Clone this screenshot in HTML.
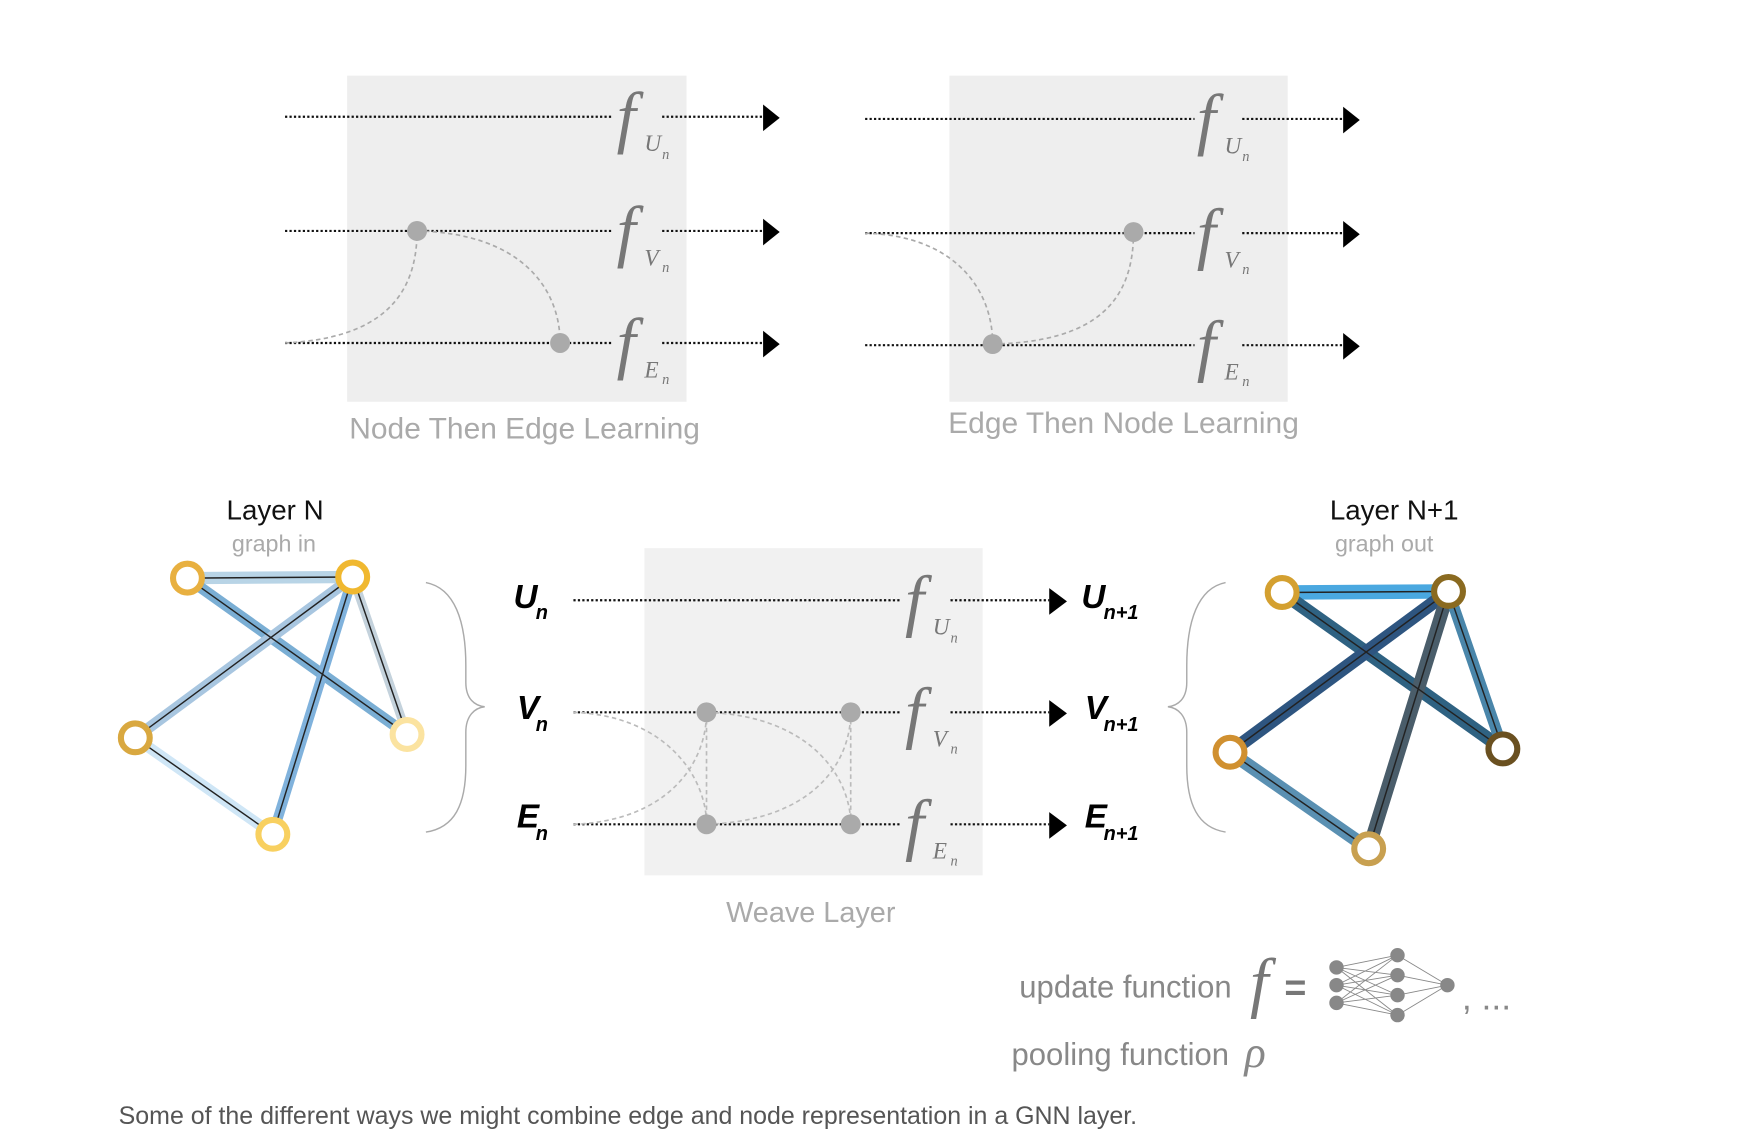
<!DOCTYPE html>
<html><head><meta charset="utf-8"><style>
html,body{margin:0;padding:0;background:#fff;}
svg{display:block;}
.lbl{font-family:"Liberation Sans",sans-serif;fill:#aaa;}
.f{font-family:"Liberation Serif",serif;font-style:italic;fill:#777;}
.v{font-family:"Liberation Sans",sans-serif;font-style:italic;font-weight:bold;fill:#000;}
</style></head><body>
<svg width="1738" height="1144" viewBox="0 0 1567 1031" xmlns="http://www.w3.org/2000/svg">
<!-- top left -->
<rect x="313" y="68" width="306" height="294" fill="#eeeeee"/>
<g stroke="#111" stroke-width="2" stroke-dasharray="2,2" fill="none">
<line x1="257" y1="105" x2="553" y2="105"/><line x1="597" y1="105" x2="688" y2="105"/>
<line x1="257" y1="208" x2="553" y2="208"/><line x1="597" y1="208" x2="688" y2="208"/>
<line x1="257" y1="309" x2="553" y2="309"/><line x1="597" y1="309" x2="688" y2="309"/>
</g>
<g fill="#000"><path d="M688,94 L703,106 L688,118Z"/><path d="M688,197 L703,209 L688,221Z"/><path d="M688,298 L703,310 L688,322Z"/></g>
<g stroke="#aaa" stroke-width="1.5" stroke-dasharray="4,3" fill="none">
<path d="M257,309 C340,305 376,270 376,208"/>
<path d="M376,208 C470,210 505,260 505,309"/>
</g>
<circle cx="376" cy="208" r="9" fill="#aaa"/><circle cx="505" cy="309" r="9" fill="#aaa"/>
<g class="f"><text x="556" y="126" font-size="62" transform="" >f</text><text x="581" y="136" font-size="21">U</text><text x="597" y="143" font-size="13">n</text>
<text x="556" y="229" font-size="62">f</text><text x="581" y="239" font-size="21">V</text><text x="597" y="245" font-size="13">n</text>
<text x="556" y="330" font-size="62">f</text><text x="581" y="340" font-size="21">E</text><text x="597" y="346" font-size="13">n</text></g>
<text class="lbl" x="473" y="395" font-size="27" text-anchor="middle">Node Then Edge Learning</text>

<!-- top right -->
<rect x="856" y="68" width="305" height="294" fill="#eeeeee"/>
<g stroke="#111" stroke-width="2" stroke-dasharray="2,2" fill="none">
<line x1="780" y1="107" x2="1077" y2="107"/><line x1="1120" y1="107" x2="1211" y2="107"/>
<line x1="780" y1="210" x2="1077" y2="210"/><line x1="1120" y1="210" x2="1211" y2="210"/>
<line x1="780" y1="311" x2="1077" y2="311"/><line x1="1120" y1="311" x2="1211" y2="311"/>
</g>
<g fill="#000"><path d="M1211,96 L1226,108 L1211,120Z"/><path d="M1211,199 L1226,211 L1211,223Z"/><path d="M1211,300 L1226,312 L1211,324Z"/></g>
<g stroke="#aaa" stroke-width="1.5" stroke-dasharray="4,3" fill="none">
<path d="M780,210 C860,212 895,260 895,310"/>
<path d="M895,310 C990,308 1022,270 1022,209"/>
</g>
<circle cx="1022" cy="209" r="9" fill="#aaa"/><circle cx="895" cy="310" r="9" fill="#aaa"/>
<g class="f"><text x="1079" y="128" font-size="62">f</text><text x="1104" y="138" font-size="21">U</text><text x="1120" y="145" font-size="13">n</text>
<text x="1079" y="231" font-size="62">f</text><text x="1104" y="241" font-size="21">V</text><text x="1120" y="247" font-size="13">n</text>
<text x="1079" y="332" font-size="62">f</text><text x="1104" y="342" font-size="21">E</text><text x="1120" y="348" font-size="13">n</text></g>
<text class="lbl" x="1013" y="390" font-size="27" text-anchor="middle">Edge Then Node Learning</text>

<!-- weave -->
<rect x="581" y="494" width="305" height="295" fill="#f1f1f1"/>
<g stroke="#111" stroke-width="2" stroke-dasharray="2,2" fill="none">
<line x1="517" y1="541" x2="813" y2="541"/><line x1="857" y1="541" x2="946" y2="541"/>
<line x1="517" y1="642" x2="813" y2="642"/><line x1="857" y1="642" x2="946" y2="642"/>
<line x1="517" y1="743" x2="813" y2="743"/><line x1="857" y1="743" x2="946" y2="743"/>
</g>
<g fill="#000"><path d="M946,530 L962,542 L946,554Z"/><path d="M946,631 L962,643 L946,655Z"/><path d="M946,732 L962,744 L946,756Z"/></g>
<g stroke="#bbb" stroke-width="1.5" stroke-dasharray="4,3" fill="none">
<path d="M517,642 C600,645 637,700 637,743"/>
<path d="M517,743 C600,740 637,690 637,642"/>
<path d="M637,642 L637,743"/>
<path d="M637,642 C730,645 767,700 767,743"/>
<path d="M637,743 C730,740 767,690 767,642"/>
<path d="M767,642 L767,743"/>
</g>
<g fill="#aaa"><circle cx="637" cy="642" r="9"/><circle cx="767" cy="642" r="9"/><circle cx="637" cy="743" r="9"/><circle cx="767" cy="743" r="9"/></g>
<g class="f"><text x="816" y="562" font-size="62">f</text><text x="841" y="572" font-size="21">U</text><text x="857" y="579" font-size="13">n</text>
<text x="816" y="663" font-size="62">f</text><text x="841" y="673" font-size="21">V</text><text x="857" y="679" font-size="13">n</text>
<text x="816" y="764" font-size="62">f</text><text x="841" y="774" font-size="21">E</text><text x="857" y="780" font-size="13">n</text></g>
<g class="v"><text x="463" y="548" font-size="30">U</text><text x="483" y="558" font-size="18">n</text>
<text x="466" y="648" font-size="30">V</text><text x="483" y="659" font-size="18">n</text>
<text x="466" y="746" font-size="30">E</text><text x="483" y="757" font-size="18">n</text>
<text x="975" y="548" font-size="30">U</text><text x="995" y="558" font-size="18">n+1</text>
<text x="978" y="648" font-size="30">V</text><text x="995" y="659" font-size="18">n+1</text>
<text x="978" y="746" font-size="30">E</text><text x="995" y="757" font-size="18">n+1</text></g>
<text class="lbl" x="731" y="831" font-size="26" text-anchor="middle">Weave Layer</text>

<!-- braces -->
<g stroke="#aaa" stroke-width="1.3" fill="none">
<path d="M384,525 C410,530 420,560 420,600 L420,615 C420,630 428,636 437,637 C428,638 420,645 420,660 L420,690 C420,725 410,746 384,750"/>
<path d="M1105,525 C1080,530 1070,560 1070,600 L1070,615 C1070,630 1062,636 1053,637 C1062,638 1070,645 1070,660 L1070,690 C1070,725 1080,746 1105,750"/>
</g>

<!-- left graph -->
<text x="248" y="468" font-family="Liberation Sans,sans-serif" font-size="25" fill="#111" text-anchor="middle">Layer N</text>
<text class="lbl" x="247" y="497" font-size="21" text-anchor="middle">graph in</text>
<g stroke-linecap="round">
<line x1="169" y1="521" x2="318" y2="520" stroke="#b8d4e6" stroke-width="11"/>
<line x1="169" y1="521" x2="367" y2="662" stroke="#7aaed4" stroke-width="10"/>
<line x1="318" y1="520" x2="122" y2="665" stroke="#a8c6e0" stroke-width="10"/>
<line x1="318" y1="520" x2="246" y2="752" stroke="#80b2dc" stroke-width="9"/>
<line x1="318" y1="520" x2="367" y2="662" stroke="#c4d2dc" stroke-width="8"/>
<line x1="122" y1="665" x2="246" y2="752" stroke="#cfe6f6" stroke-width="10"/>
</g>
<g stroke="#222" stroke-width="1.3">
<line x1="169" y1="521" x2="318" y2="520"/><line x1="169" y1="521" x2="367" y2="662"/>
<line x1="318" y1="520" x2="122" y2="665"/><line x1="318" y1="520" x2="246" y2="752"/>
<line x1="318" y1="520" x2="367" y2="662"/><line x1="122" y1="665" x2="246" y2="752"/>
</g>
<g fill="#fff" stroke-width="5.5">
<circle cx="169" cy="521" r="13" stroke="#e8b040"/><circle cx="318" cy="520" r="13" stroke="#f0b830"/>
<circle cx="122" cy="665" r="13" stroke="#d9a840"/><circle cx="367" cy="662" r="13" stroke="#fbe3a0"/>
<circle cx="246" cy="752" r="13" stroke="#f8d060"/>
</g>

<!-- right graph -->
<text x="1257" y="468" font-family="Liberation Sans,sans-serif" font-size="25" fill="#111" text-anchor="middle">Layer N+1</text>
<text class="lbl" x="1248" y="497" font-size="21" text-anchor="middle">graph out</text>
<g stroke-linecap="round">
<line x1="1156" y1="534" x2="1306" y2="533" stroke="#4aa8e0" stroke-width="13"/>
<line x1="1156" y1="534" x2="1355" y2="675" stroke="#2f6282" stroke-width="12"/>
<line x1="1306" y1="533" x2="1109" y2="678" stroke="#2e5580" stroke-width="12"/>
<line x1="1306" y1="533" x2="1234" y2="765" stroke="#4a5d6a" stroke-width="12"/>
<line x1="1306" y1="533" x2="1355" y2="675" stroke="#4a86aa" stroke-width="10"/>
<line x1="1109" y1="678" x2="1234" y2="765" stroke="#5a90b2" stroke-width="12"/>
</g>
<g stroke="#222" stroke-width="1.3">
<line x1="1156" y1="534" x2="1306" y2="533"/><line x1="1156" y1="534" x2="1355" y2="675"/>
<line x1="1306" y1="533" x2="1109" y2="678"/><line x1="1306" y1="533" x2="1234" y2="765"/>
<line x1="1306" y1="533" x2="1355" y2="675"/><line x1="1109" y1="678" x2="1234" y2="765"/>
</g>
<g fill="#fff" stroke-width="5.5">
<circle cx="1156" cy="534" r="13" stroke="#d4a030"/><circle cx="1306" cy="533" r="13" stroke="#8a6a20"/>
<circle cx="1109" cy="678" r="13" stroke="#d09030"/><circle cx="1355" cy="675" r="13" stroke="#6a5020"/>
<circle cx="1234" cy="765" r="13" stroke="#c8a050"/>
</g>

<!-- legend -->
<text x="919" y="899" font-family="Liberation Sans,sans-serif" font-size="28" fill="#888">update function</text>
<text class="f" x="1127" y="906" font-size="60">f</text>
<text x="1158" y="902" font-family="Liberation Sans,sans-serif" font-size="34" font-weight="bold" fill="#777">=</text>
<g stroke="#888" stroke-width="0.8">
<line x1="1205" y1="872" x2="1260" y2="861"/><line x1="1205" y1="872" x2="1260" y2="879"/><line x1="1205" y1="872" x2="1260" y2="897"/><line x1="1205" y1="872" x2="1260" y2="915"/>
<line x1="1205" y1="888" x2="1260" y2="861"/><line x1="1205" y1="888" x2="1260" y2="879"/><line x1="1205" y1="888" x2="1260" y2="897"/><line x1="1205" y1="888" x2="1260" y2="915"/>
<line x1="1205" y1="904" x2="1260" y2="861"/><line x1="1205" y1="904" x2="1260" y2="879"/><line x1="1205" y1="904" x2="1260" y2="897"/><line x1="1205" y1="904" x2="1260" y2="915"/>
<line x1="1260" y1="861" x2="1305" y2="888"/><line x1="1260" y1="879" x2="1305" y2="888"/><line x1="1260" y1="897" x2="1305" y2="888"/><line x1="1260" y1="915" x2="1305" y2="888"/>
</g>
<g fill="#888"><circle cx="1205" cy="872" r="6.5"/><circle cx="1205" cy="888" r="6.5"/><circle cx="1205" cy="904" r="6.5"/>
<circle cx="1260" cy="861" r="6.5"/><circle cx="1260" cy="879" r="6.5"/><circle cx="1260" cy="897" r="6.5"/><circle cx="1260" cy="915" r="6.5"/>
<circle cx="1305" cy="888" r="6.5"/></g>
<text x="1318" y="910" font-family="Liberation Sans,sans-serif" font-size="32" fill="#888">, ...</text>
<text x="912" y="960" font-family="Liberation Sans,sans-serif" font-size="28" fill="#888">pooling function</text>
<text x="1122" y="962" font-family="Liberation Serif,serif" font-style="italic" font-size="40" fill="#888">ρ</text>

<text x="107" y="1013" font-family="Liberation Sans,sans-serif" font-size="22.5" fill="#555">Some of the different ways we might combine edge and node representation in a GNN layer.</text>
</svg>
</body></html>
